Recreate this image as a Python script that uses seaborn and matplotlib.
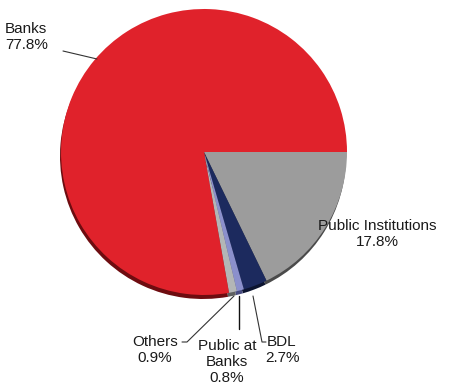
import matplotlib
matplotlib.use("Agg")
import matplotlib.pyplot as plt
import seaborn as sns

sns.set_theme(style="white")
plt.rcParams["font.family"] = ["Liberation Sans", "DejaVu Sans"]

# Holders of the debt, clockwise from three o'clock
holders = ["Public Institutions", "BDL", "Public at\nBanks", "Others", "Banks"]
shares = [17.8, 2.7, 0.8, 0.9, 77.8]
face_colors = ["#9c9c9c", "#1c2a5e", "#8b90cc", "#b3b6b6", "#e0222b"]
side_colors = ["#4a4a4a", "#0c1430", "#474b80", "#5e6060", "#6e0c10"]

W, H = 453, 387
fig = plt.figure(figsize=(W / 100, H / 100), dpi=100)
ax = fig.add_axes([0, 0, 1, 1])

cx, cy, r = 204, H - 152, 143

# darker copy underneath gives the pie a little thickness
ax.pie(shares, colors=side_colors, startangle=0, counterclock=False,
       center=(cx - 1, cy - 4), radius=r, frame=True,
       wedgeprops=dict(linewidth=0))
ax.pie(shares, colors=face_colors, startangle=0, counterclock=False,
       center=(cx, cy), radius=r, frame=True,
       wedgeprops=dict(linewidth=0))
ax.set_xlim(0, W)
ax.set_ylim(0, H)
ax.set_aspect("equal")
ax.axis("off")

def pct(v):
    return f"{v:.1f}%"

fs = 11
ls = 1.25
tc = "#1a1a1a"

# Banks
ax.text(5, H - 37, f"{holders[4]}\n{pct(shares[4])}", ha="left", va="center",
        fontsize=fs, color=tc, linespacing=ls)
ax.plot([63, 97], [H - 51, H - 59], color="#333333", lw=0.8)

# Public Institutions
ax.text(377, H - 234, f"{holders[0]}\n{pct(shares[0])}", ha="center",
        va="center", fontsize=fs, color=tc, linespacing=1.15)

# Others
ax.text(155, H - 350, f"{holders[3]}\n{pct(shares[3])}", ha="center",
        va="center", fontsize=fs, color=tc, linespacing=ls)
ax.plot([182, 187, 234], [H - 342, H - 342, H - 296], color="#333333", lw=0.8)

# Public at Banks
ax.text(227, H - 362, f"{holders[2]}\n{pct(shares[2])}", ha="center",
        va="center", fontsize=fs, color=tc, linespacing=1.15)
ax.plot([239, 239], [H - 296, H - 329], color="#111111", lw=1.0)

# BDL
ax.text(282, H - 350, f"{holders[1]}\n{pct(shares[1])}", ha="center",
        va="center", fontsize=fs, color=tc, linespacing=ls)
ax.plot([253, 262, 266], [H - 296, H - 342, H - 342], color="#333333", lw=0.8)

fig.savefig("out.png", dpi=100)
